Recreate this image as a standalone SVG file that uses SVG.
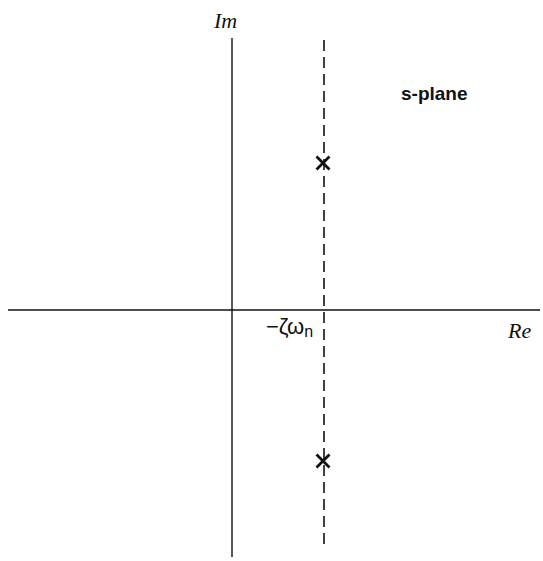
<svg xmlns="http://www.w3.org/2000/svg" width="543" height="561" viewBox="0 0 543 561">
<style>
.axis{stroke:#111;stroke-width:1.4;fill:none}
.dash{stroke:#111;stroke-width:1.6;stroke-dasharray:11 6;fill:none}
.pole{stroke:#111;stroke-width:2.8;fill:none}
.lbl{font-family:"Liberation Sans",Arial,sans-serif;fill:#111}
.scr{font-family:"Liberation Serif","DejaVu Serif",serif;font-style:italic;fill:#111}
</style>
<rect width="543" height="561" fill="#fff"/>
<g id="connectors">
<line class="axis" x1="232" y1="38" x2="232" y2="557"/>
<line class="axis" x1="8" y1="310" x2="540" y2="310"/>
<line class="dash" x1="324" y1="40" x2="324" y2="546"/>
</g>
<g id="pole-upper"><path class="pole" d="M316.5 156.5 L329.5 169.5 M329.5 156.5 L316.5 169.5"/></g>
<g id="pole-lower"><path class="pole" d="M316.5 454.5 L329.5 467.5 M329.5 454.5 L316.5 467.5"/></g>
<g id="label-im"><text class="scr" x="214" y="28" font-size="22">Im</text></g>
<g id="label-re"><text class="scr" x="508" y="338" font-size="22">Re</text></g>
<g id="label-zeta"><text class="lbl" x="266" y="334" font-size="22">−ζω<tspan font-size="16" dy="3">n</tspan></text></g>
<g id="label-splane"><text class="lbl" x="401" y="100" font-size="19" font-weight="bold">s-plane</text></g>
</svg>
